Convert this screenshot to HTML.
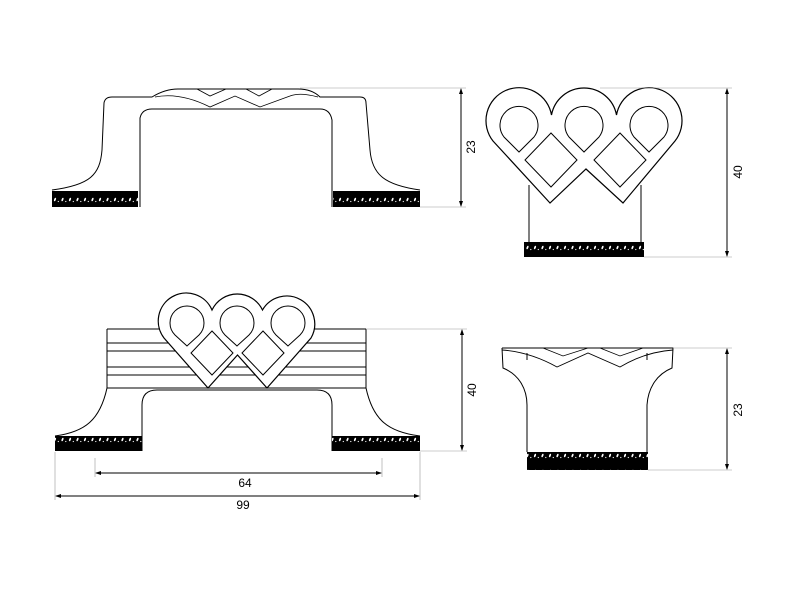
<!DOCTYPE html>
<html><head><style>html,body{margin:0;padding:0;background:#fff}svg{display:block}</style></head>
<body>
<svg width="800" height="600" viewBox="0 0 800 600" xmlns="http://www.w3.org/2000/svg" font-family="Liberation Sans, sans-serif">
<defs>
<pattern id="dots" x="0" y="0" width="7.5" height="16" patternUnits="userSpaceOnUse">
<rect width="7.5" height="16" fill="#000"/>
<ellipse cx="2.5" cy="7.5" rx="0.9" ry="1.8" fill="#fff" transform="rotate(20 2.5 7.5)"/>
<circle cx="5.8" cy="9.5" r="0.6" fill="#fff"/>
</pattern>
</defs>
<g fill="none" stroke="#000" stroke-width="1">
<!-- TOP LEFT VIEW -->
<path d="M52,190 C90,185 100,175 102,150 L104,103 Q105,97 112,97 L152,97 Q165,89 178,89 L298,89 Q312,89 320,97 L360,97 Q366,97 366,103 L370,150 C372,175 385,185 420,190"/>
<path d="M140,207 L140,118 Q142,109 152,109 L320,109 Q330,109 332,120 L332,207"/>
<path d="M155,97 Q180,92 210,107 L235,96 L260,107 L290,96 Q300,92 318,97" stroke-width="0.8"/>
<path d="M197,89 L210,96 L226,89 M246,89 L259,96 L272,89" stroke-width="0.8"/>
<rect x="52" y="191" width="86" height="16" fill="url(#dots)" stroke="none"/>
<rect x="333" y="191" width="87" height="16" fill="url(#dots)" stroke="none"/>
<g stroke="#999" stroke-width="0.6"><line x1="300" y1="88" x2="466" y2="88"/><line x1="420" y1="207" x2="466" y2="207"/></g>
<line x1="461" y1="89" x2="461" y2="206"/>
<!-- TOP RIGHT VIEW -->
<path d="M550,203 L493,141 A33,33 0 1 1 551.5,115 A33,33 0 0 1 584,88 A33,33 0 0 1 616.5,115 A33,33 0 1 1 675,141 L623,203 L586,169 Z" stroke-width="1.2"/>
<path d="M519,152 L504,137 A19,19 0 1 1 534,137 Z"/>
<path d="M584,152 L569,137 A19,19 0 1 1 599,137 Z"/>
<path d="M649,152 L634,137 A19,19 0 1 1 664,137 Z"/>
<path d="M551,133 L577,160 L551,187 L525,160 Z"/>
<path d="M620,133 L646,160 L620,187 L594,160 Z"/>
<line x1="529" y1="185" x2="529" y2="242"/><line x1="641" y1="185" x2="641" y2="242"/>
<rect x="524" y="242" width="120" height="15" fill="url(#dots)" stroke="none"/>
<g stroke="#999" stroke-width="0.6"><line x1="600" y1="88" x2="732" y2="88"/><line x1="644" y1="257" x2="732" y2="257"/></g>
<line x1="727" y1="89" x2="727" y2="256"/>
<!-- BOTTOM LEFT VIEW -->
<path d="M107,329 L366,329 M107,343 L366,343 M107,351 L366,351 M107,367 L366,367 M107,375 L366,375 M107,388 L366,388 M107,329 L107,388 M366,329 L366,388"/>
<path d="M107,388 C100,420 85,432 55,436 M366,388 C373,420 388,432 420,436"/>
<path d="M142,451 L142,405 Q142,390 157,390 L317,390 Q332,390 332,405 L332,451"/>
<path d="M208,388 L164,338 A28,28 0 1 1 212,310 A28,28 0 0 1 237.25,294 A28,28 0 0 1 262.5,310 A28,28 0 1 1 311,338 L267,388 L237.5,355 Z" fill="#fff" stroke-width="1.2"/>
<path d="M187,346 L175,335 A17,17 0 1 1 199,335 Z"/>
<path d="M237,346 L225,335 A17,17 0 1 1 249,335 Z"/>
<path d="M288,346 L276,335 A17,17 0 1 1 300,335 Z"/>
<path d="M212,331 L233,353 L212,375 L191,353 Z"/>
<path d="M263,331 L284,353 L263,375 L242,353 Z"/>
<rect x="55" y="436" width="87" height="15" fill="url(#dots)" stroke="none"/>
<rect x="332" y="436" width="88" height="15" fill="url(#dots)" stroke="none"/>
<g stroke="#999" stroke-width="0.6"><line x1="366" y1="329" x2="467" y2="329"/><line x1="420" y1="451" x2="467" y2="451"/>
<line x1="95" y1="458" x2="95" y2="477"/><line x1="382" y1="458" x2="382" y2="477"/>
<line x1="55" y1="452" x2="55" y2="500"/><line x1="420" y1="452" x2="420" y2="500"/></g>
<line x1="462" y1="330" x2="462" y2="450"/>
<line x1="96" y1="473" x2="381" y2="473"/>
<line x1="56" y1="496" x2="419" y2="496"/>
<!-- BOTTOM RIGHT VIEW -->
<path d="M502,348 L673,348 L672,368 C655,375 648,390 647,405 L647,452 M502,348 L503,368 C520,375 527,390 527,405 L527,452"/>
<path d="M527,353 L527,360 M647,353 L647,360"/>
<path d="M502,350 Q530,352 557,367 L588,353 L620,367 Q645,352 673,350" stroke-width="0.9"/>
<path d="M543,348 L563,356 L588,348 M600,348 L620,356 L643,348" stroke-width="0.8"/>
<rect x="527" y="452" width="121" height="18" fill="url(#dots)" stroke="none"/>
<g stroke="#999" stroke-width="0.6"><line x1="673" y1="348" x2="732" y2="348"/><line x1="648" y1="470" x2="732" y2="470"/></g>
<line x1="727" y1="349" x2="727" y2="469"/>
</g>
<g fill="#000">
<path d="M461,88 l-2,6 h4z M461,207 l-2,-6 h4z"/>
<path d="M727,88 l-2,6 h4z M727,257 l-2,-6 h4z"/>
<path d="M462,329 l-2,6 h4z M462,451 l-2,-6 h4z"/>
<path d="M727,348 l-2,6 h4z M727,470 l-2,-6 h4z"/>
<path d="M95,473 l6,-2 v4z M382,473 l-6,-2 v4z"/>
<path d="M55,496 l6,-2 v4z M420,496 l-6,-2 v4z"/>
</g>
<g font-size="12" fill="#000" text-anchor="middle">
<text transform="translate(475,147) rotate(-90)">23</text>
<text transform="translate(742,172) rotate(-90)">40</text>
<text transform="translate(476,390) rotate(-90)">40</text>
<text transform="translate(742,410) rotate(-90)">23</text>
<text x="245" y="487">64</text>
<text x="243" y="509">99</text>
</g>
</svg>
</body></html>
